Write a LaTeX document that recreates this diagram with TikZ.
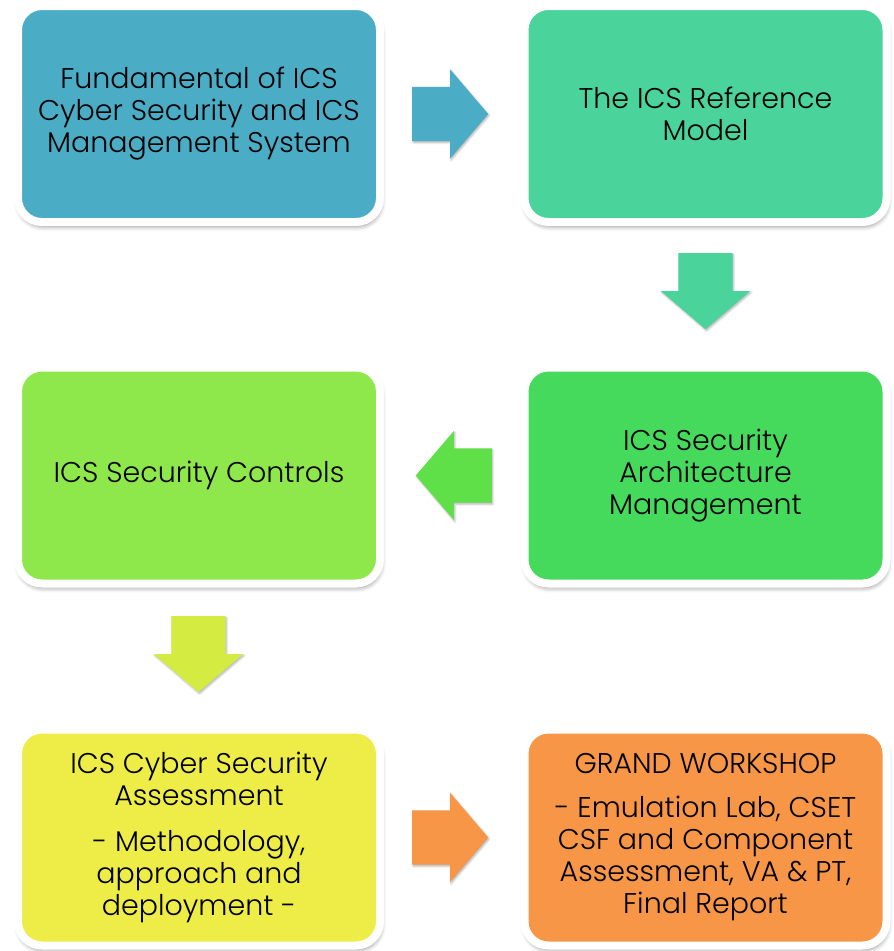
\documentclass[tikz,border=0pt]{standalone}
\usepackage{fontspec}
\setmainfont{Poppins}[UprightFont=* Light]
\usetikzlibrary{shapes.arrows,shadows,shadows.blur,calc,positioning}

\definecolor{fundteal}{HTML}{4BACC6}
\definecolor{refgreen}{HTML}{4AD39A}
\definecolor{archgreen}{HTML}{46DA5C}
\definecolor{ctrlgreen}{HTML}{8FE84B}
\definecolor{assyellow}{HTML}{EEEC46}
\definecolor{workorange}{HTML}{F79646}
\definecolor{arrgreen}{HTML}{5FE048}
\definecolor{arrlime}{HTML}{D4EC42}

\tikzset{
  stagebox/.style={draw=white,line width=8pt,rounded corners=24pt,
    minimum width=362pt,minimum height=216pt,align=center,
    font=\fontsize{28.5}{32}\selectfont,
    blur shadow={shadow xshift=1pt,shadow yshift=-4pt,shadow blur radius=5pt,shadow opacity=50}},
  blockarrow/.style={single arrow,draw=none,inner xsep=0pt,inner ysep=27pt,
    minimum height=76pt,anchor=tail,
    single arrow head extend=17.5pt,single arrow head indent=0pt,single arrow tip angle=99,
    blur shadow={shadow xshift=1pt,shadow yshift=-1.5pt,shadow blur radius=2pt,shadow opacity=30}}
}

\begin{document}
\begin{tikzpicture}[x=1pt,y=-1pt]
\useasboundingbox (0,0) rectangle (894,951);
% the six stages
\node[stagebox,fill=fundteal] (fund) at (199,114) {Fundamental of ICS\\Cyber Security and ICS\\Management System};
\node[stagebox,fill=refgreen] (ref) at (705.5,114) {The ICS Reference\\Model};
\node[stagebox,fill=archgreen] (arch) at (705.5,475.5) {ICS Security\\Architecture\\Management};
\node[stagebox,fill=ctrlgreen] (ctrl) at (199,475.5) {ICS Security Controls};
\node[stagebox,fill=assyellow] (assess) at (199,837.5) {ICS Cyber Security\\Assessment\\[14pt]- Methodology,\\approach and\\deployment -};
\node[stagebox,fill=workorange] (work) at (705.5,837.5) {GRAND WORKSHOP\\[12pt]- Emulation Lab, CSET\\CSF and Component\\Assessment, VA \& PT,\\Final Report};
% block arrows between them
\node[blockarrow,fill=fundteal] (fundref) at ($(fund.east)+(28,0)$) {};
\node[blockarrow,fill=refgreen,rotate=-90] (refarch) at ($(ref.south)+(0,27)$) {};
\node[blockarrow,fill=arrgreen,rotate=180] (archctrl) at ($(arch.west)+(-28.5,0)$) {};
\node[blockarrow,fill=arrlime,rotate=-90] (ctrlassess) at ($(ctrl.south)+(-0.5,28.5)$) {};
\node[blockarrow,fill=workorange] (asswork) at ($(assess.east)+(28,0)$) {};
\end{tikzpicture}
\end{document}
